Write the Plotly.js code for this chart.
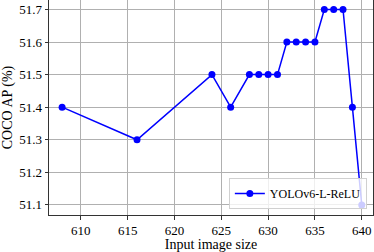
<!DOCTYPE html>
<html><head><meta charset="utf-8">
<script src="https://cdn.plot.ly/plotly-3.0.1.min.js"></script>
<style>html,body{margin:0;padding:0;background:#fff}#c{width:374px;height:252px}</style>
</head><body><div id="c"></div>
<script>
const inputSize = [608, 616, 624, 626, 628, 629, 630, 631, 632, 633, 634, 635, 636, 637, 638, 639, 640];
const cocoAP = [51.4, 51.3, 51.5, 51.4, 51.5, 51.5, 51.5, 51.5, 51.6, 51.6, 51.6, 51.6, 51.7, 51.7, 51.7, 51.4, 51.1];
const seriesName = 'YOLOv6-L-ReLU';
const xTicks = [610, 615, 620, 625, 630, 635, 640];
const yTicks = [51.1, 51.2, 51.3, 51.4, 51.5, 51.6, 51.7];

const font = {family: '"Liberation Serif", "DejaVu Serif", serif', color: '#000'};
Plotly.newPlot('c', [{
  x: inputSize, y: cocoAP, name: seriesName, type: 'scatter', mode: 'lines+markers',
  line: {color: '#0000ff', width: 1.5},
  marker: {color: '#0000ff', size: 7},
  showlegend: true
}], {
  width: 374, height: 252,
  margin: {l: 49, r: 1, t: 0, b: 37},
  paper_bgcolor: '#fff', plot_bgcolor: '#fff',
  font: Object.assign({size: 13}, font),
  xaxis: {
    range: [606.6, 641.2], tickvals: xTicks, ticktext: xTicks.map(String),
    showgrid: true, gridcolor: '#b0b0b0', gridwidth: 1,
    showline: true, linecolor: '#333', linewidth: 1, mirror: true,
    ticks: 'outside', ticklen: 3.5, tickcolor: '#333', zeroline: false,
    tickfont: Object.assign({size: 13}, font),
    title: {text: 'Input image size', font: Object.assign({size: 14}, font), standoff: 2}
  },
  yaxis: {
    range: [51.069, 51.729], tickvals: yTicks, ticktext: yTicks.map(v => v.toFixed(1)),
    showgrid: true, gridcolor: '#b0b0b0', gridwidth: 1,
    showline: true, linecolor: '#333', linewidth: 1, mirror: true,
    ticks: 'outside', ticklen: 3.5, tickcolor: '#333', zeroline: false,
    tickfont: Object.assign({size: 13}, font),
    title: {text: 'COCO AP (%)', font: Object.assign({size: 14}, font), standoff: 4}
  },
  legend: {
    x: 0.981, y: 0.028, xanchor: 'right', yanchor: 'bottom',
    bgcolor: 'rgba(255,255,255,0.8)', bordercolor: '#d0d0d0', borderwidth: 1,
    font: Object.assign({size: 12}, font)
  }
}, {displayModeBar: false, staticPlot: true});
</script></body></html>
